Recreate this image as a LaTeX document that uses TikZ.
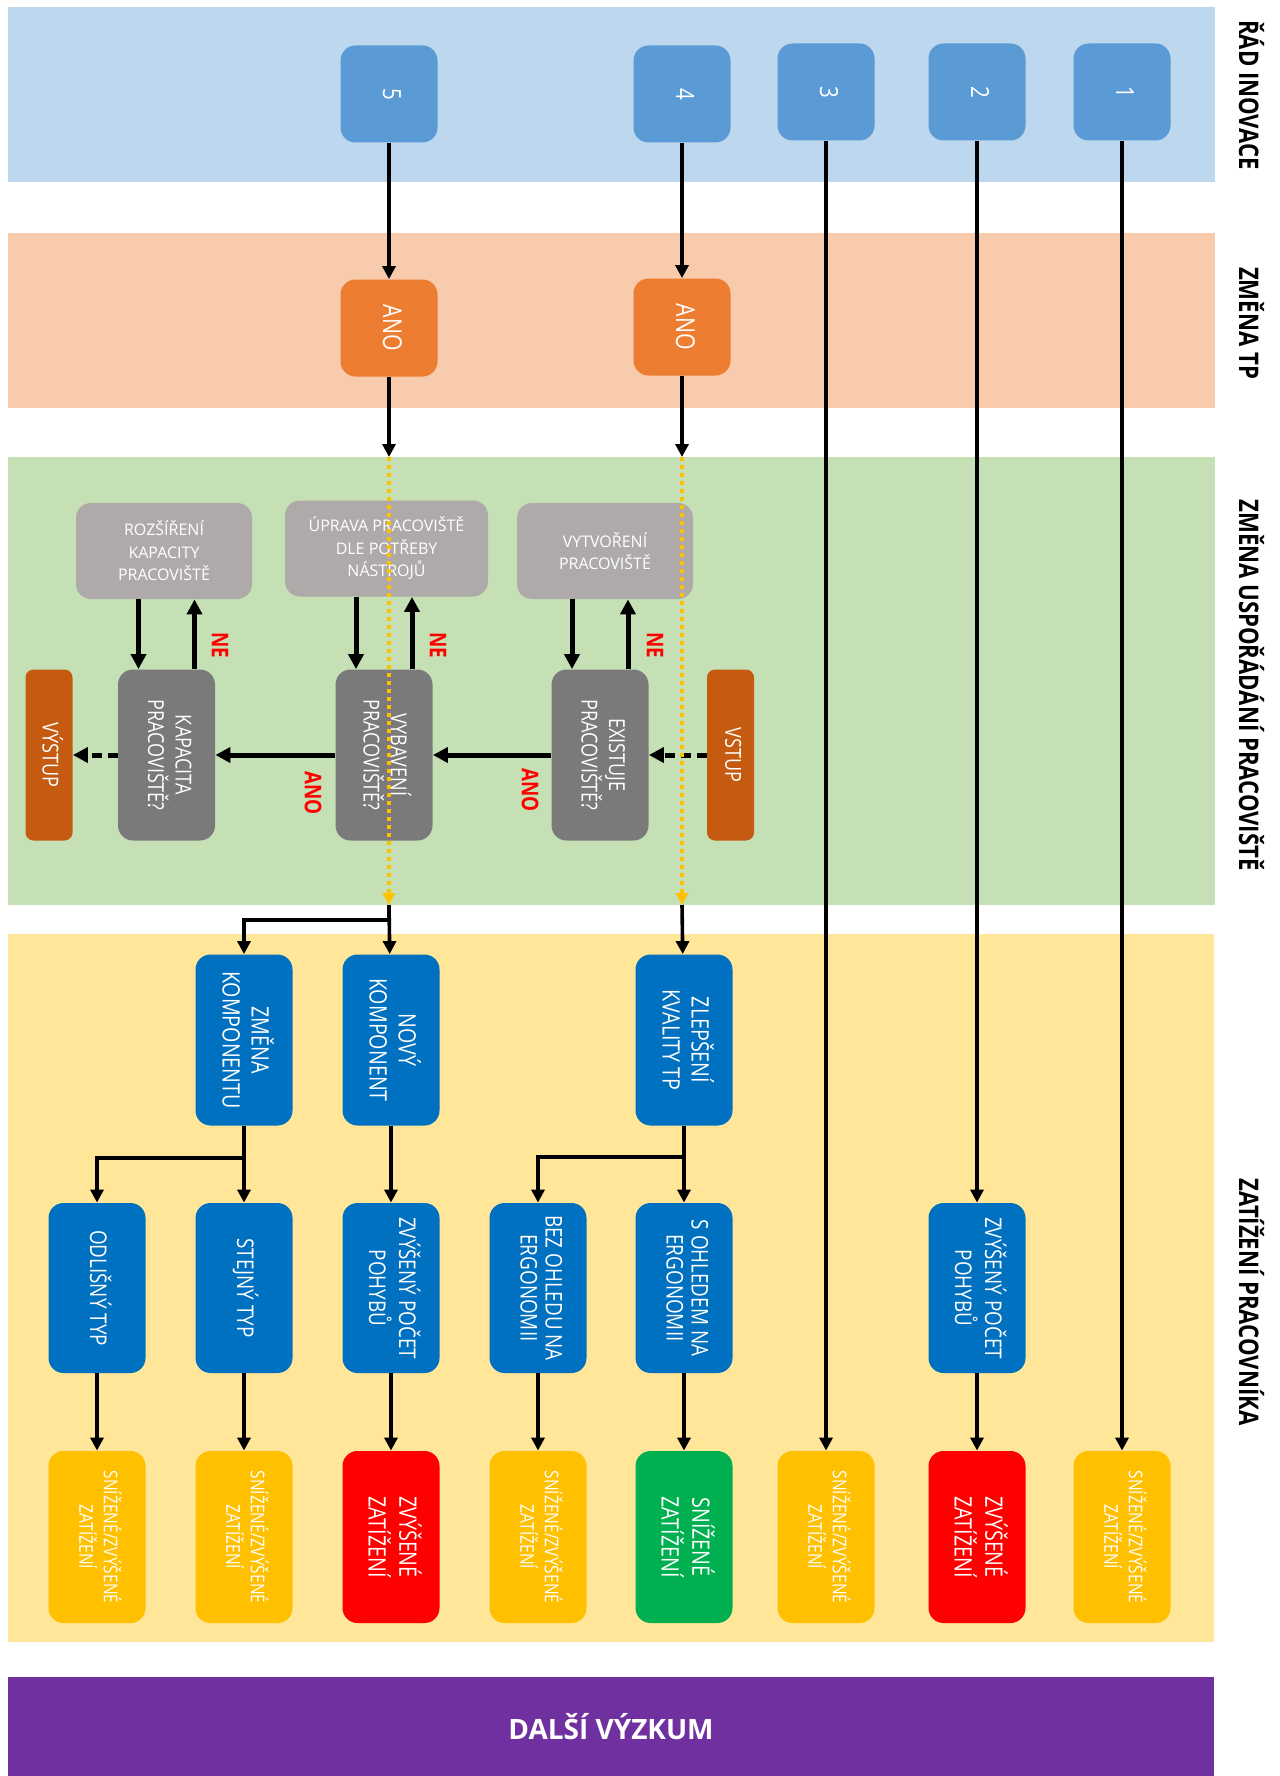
\documentclass[tikz,border=0pt]{standalone}
\usepackage{fontspec}
\usepackage{graphicx}
\setmainfont{Open Sans}
\usetikzlibrary{arrows.meta}

\definecolor{cBandBlue}{HTML}{BDD7EE}
\definecolor{cBandOrange}{HTML}{F8CBAD}
\definecolor{cBandGreen}{HTML}{C5E0B4}
\definecolor{cBandYellow}{HTML}{FFE699}
\definecolor{cPurple}{HTML}{7030A0}
\definecolor{cRank}{HTML}{5B9BD5}
\definecolor{cAno}{HTML}{ED7D31}
\definecolor{cLight}{HTML}{AEAAAA}
\definecolor{cDark}{HTML}{7A7A7A}
\definecolor{cIO}{HTML}{C55A11}
\definecolor{cBlue}{HTML}{0070C0}
\definecolor{cResY}{HTML}{FFC000}
\definecolor{cResR}{HTML}{FF0000}
\definecolor{cResG}{HTML}{00B050}
\definecolor{cLbl}{HTML}{FF0000}

% text turned a quarter turn clockwise, slightly narrowed
\newcommand\vtxt[1]{\rotatebox{-90}{\scalebox{0.82}[1]{\begin{tabular}{@{}c@{}}#1\end{tabular}}}}

\begin{document}
\begin{tikzpicture}[x=0.5pt,y=-0.5pt,
  box/.style={inner sep=0pt, text=white, rounded corners=7.5pt},
  rankbox/.style={box, fill=cRank, minimum width=48.5pt, minimum height=48.5pt,
    font=\fontsize{12.5pt}{15pt}\selectfont},
  anobox/.style={box, fill=cAno, minimum width=48.5pt, minimum height=48.5pt,
    font=\fontsize{13pt}{15pt}\selectfont},
  lightbox/.style={box, fill=cLight, minimum width=88pt, minimum height=48pt,
    align=center, font=\fontsize{8pt}{11.25pt}\selectfont},
  darkbox/.style={box, fill=cDark, minimum width=48.5pt, minimum height=85.5pt,
    font=\fontsize{11pt}{11.5pt}\selectfont},
  iobox/.style={box, fill=cIO, rounded corners=4pt, minimum width=23.5pt, minimum height=85.5pt,
    font=\fontsize{11pt}{13pt}\selectfont},
  bluebox/.style={box, fill=cBlue, minimum width=48.5pt, minimum height=85.5pt,
    font=\fontsize{12pt}{14.5pt}\selectfont},
  bluesmall/.style={box, fill=cBlue, minimum width=48.5pt, minimum height=85pt,
    font=\fontsize{11.5pt}{12.5pt}\selectfont},
  resyel/.style={box, fill=cResY, minimum width=48.5pt, minimum height=86pt,
    font=\fontsize{9.5pt}{11.5pt}\selectfont},
  resred/.style={box, fill=cResR, minimum width=48.5pt, minimum height=86pt,
    font=\fontsize{12pt}{14pt}\selectfont},
  resgrn/.style={resred, fill=cResG},
  lbl/.style={inner sep=0pt, text=cLbl, font=\bfseries\fontsize{11.5pt}{13pt}\selectfont},
  heading/.style={inner sep=0pt, font=\bfseries\fontsize{13.5pt}{16pt}\selectfont},
  conn/.style={line width=1.8pt, -{Triangle[length=6.5pt,width=6.5pt]}},
  thk/.style={line width=2.5pt, -{Triangle[length=7.5pt,width=7.5pt]}},
  dsh/.style={thk, dash pattern=on 5pt off 3pt},
  dotl/.style={draw=cResY, line width=2pt, dash pattern=on 2pt off 2pt,
    -{Triangle[length=6pt,width=6pt,fill=cResY]}}
]
\useasboundingbox (0,0) rectangle (1279,1776);

% swim lanes
\fill[cBandBlue]   (8,7)   rectangle (1215,182);
\fill[cBandOrange] (8,233) rectangle (1215,408);
\fill[cBandGreen]  (8,457) rectangle (1215,905);
\fill[cBandYellow] (8,934) rectangle (1214,1642);
\node[fill=cPurple, inner sep=0pt, minimum width=603pt, minimum height=49.5pt, text=white,
  font=\bfseries\fontsize{14pt}{16pt}\selectfont] (dalsi) at (611,1726.5) {DALŠÍ VÝZKUM};

% lane titles
\node[heading] (h1) at (1247,95)   {\vtxt{ŘÁD INOVACE}};
\node[heading] (h2) at (1247,323)  {\vtxt{ZMĚNA TP}};
\node[heading] (h3) at (1247,685)  {\vtxt{ZMĚNA USPOŘÁDÁNÍ PRACOVIŠTĚ}};
\node[heading] (h4) at (1247,1302) {\vtxt{ZATÍŽENÍ PRACOVNÍKA}};

% innovation order
\node[rankbox] (r5) at (389,94)  {\vtxt{5}};
\node[rankbox] (r4) at (682,94)  {\vtxt{4}};
\node[rankbox] (r3) at (826,92)  {\vtxt{3}};
\node[rankbox] (r2) at (977,92)  {\vtxt{2}};
\node[rankbox] (r1) at (1122,92) {\vtxt{1}};

% change of the process
\node[anobox] (a5) at (389,328) {\vtxt{ANO}};
\node[anobox] (a4) at (682,327) {\vtxt{ANO}};

% workplace layout
\node[lightbox] (rozs) at (164,551) {ROZŠÍŘENÍ\\KAPACITY\\PRACOVIŠTĚ};
\node[lightbox, minimum width=101.5pt] (uprava) at (386.5,548.5) {ÚPRAVA PRACOVIŠTĚ\\DLE POTŘEBY\\NÁSTROJŮ};
\node[lightbox] (vytv) at (605,551) {VYTVOŘENÍ\\PRACOVIŠTĚ};

\node[darkbox] (kap) at (166.5,755) {\vtxt{KAPACITA\\PRACOVIŠTĚ?}};
\node[darkbox] (vyb) at (384,755)   {\vtxt{VYBAVENÍ\\PRACOVIŠTĚ?}};
\node[darkbox] (exi) at (600,755)   {\vtxt{EXISTUJE\\PRACOVIŠTĚ?}};
\node[iobox] (vstup)  at (730.5,755) {\vtxt{VSTUP}};
\node[iobox] (vystup) at (49,755)    {\vtxt{VÝSTUP}};

\node[lbl] (ne3)  at (652,645) {\vtxt{NE}};
\node[lbl] (ne2)  at (435,645) {\vtxt{NE}};
\node[lbl] (ne1)  at (217,645) {\vtxt{NE}};
\node[lbl] (ano2) at (527,790) {\vtxt{ANO}};
\node[lbl] (ano1) at (310,793) {\vtxt{ANO}};

% worker load
\node[bluebox] (zmk)  at (244,1040) {\vtxt{ZMĚNA\\KOMPONENTU}};
\node[bluebox] (nov)  at (391,1040) {\vtxt{NOVÝ\\KOMPONENT}};
\node[bluebox] (zlep) at (684,1040) {\vtxt{ZLEPŠENÍ\\KVALITY TP}};

\node[bluesmall] (odl)  at (97,1288)  {\vtxt{ODLIŠNÝ TYP}};
\node[bluesmall] (stej) at (244,1288) {\vtxt{STEJNÝ TYP}};
\node[bluesmall] (zpp5) at (391,1288) {\vtxt{ZVÝŠENÝ POČET\\POHYBŮ}};
\node[bluesmall] (bez)  at (538,1288) {\vtxt{BEZ OHLEDU NA\\ERGONOMII}};
\node[bluesmall] (soh)  at (684,1288) {\vtxt{S OHLEDEM NA\\ERGONOMII}};
\node[bluesmall] (zpp2) at (977,1288) {\vtxt{ZVÝŠENÝ POČET\\POHYBŮ}};

\node[resyel] (y1)  at (97,1537)   {\vtxt{SNÍŽENÉ/ZVÝŠENÉ\\ZATÍŽENÍ}};
\node[resyel] (y2)  at (244,1537)  {\vtxt{SNÍŽENÉ/ZVÝŠENÉ\\ZATÍŽENÍ}};
\node[resred] (rd5) at (391,1537)  {\vtxt{ZVÝŠENÉ\\ZATÍŽENÍ}};
\node[resyel] (y3)  at (538,1537)  {\vtxt{SNÍŽENÉ/ZVÝŠENÉ\\ZATÍŽENÍ}};
\node[resgrn] (gr)  at (684,1537)  {\vtxt{SNÍŽENÉ\\ZATÍŽENÍ}};
\node[resyel] (y4)  at (826,1537)  {\vtxt{SNÍŽENÉ/ZVÝŠENÉ\\ZATÍŽENÍ}};
\node[resred] (rd2) at (977,1537)  {\vtxt{ZVÝŠENÉ\\ZATÍŽENÍ}};
\node[resyel] (y5)  at (1122,1537) {\vtxt{SNÍŽENÉ/ZVÝŠENÉ\\ZATÍŽENÍ}};

% lane entry / exit points and branch points
\coordinate (g5in)  at (389,457);
\coordinate (g5out) at (389,905);
\coordinate (g4in)  at (682,457);
\coordinate (g4out) at (682,905);
\coordinate (b5) at (389,920);
\coordinate (bk) at (244,1158);
\coordinate (bq) at (684,1157);

% main flows
\draw[conn] (r5) -- (a5);
\draw[conn] (r4) -- (a4);
\draw[conn] (a5) -- (g5in);
\draw[conn] (a4) -- (g4in);
\draw[conn] (r3) -- (y4);
\draw[conn] (r1) -- (y5);
\draw[conn] (r2) -- (zpp2);
\draw[conn] (zpp2) -- (rd2);
\draw[conn] (g4out) -- (zlep);
\draw[conn] (g5out) -- (nov);
\draw[conn] (g5out) -- (b5) -| (zmk);
\draw[conn] (nov) -- (zpp5);
\draw[conn] (zpp5) -- (rd5);
\draw[conn] (zmk) -- (stej);
\draw[conn] (zmk.south) -- (bk) -| (odl);
\draw[conn] (zlep) -- (soh);
\draw[conn] (zlep.south) -- (bq) -| (bez);
\draw[conn] (odl) -- (y1);
\draw[conn] (stej) -- (y2);
\draw[conn] (bez) -- (y3);
\draw[conn] (soh) -- (gr);

% decision chain of the workplace layout
\draw[dsh] (vstup) -- (exi);
\draw[thk] (exi) -- (vyb);
\draw[thk] (vyb) -- (kap);
\draw[dsh] (kap) -- (vystup);

\path ([xshift=-14pt]exi.north) coordinate (exd) ([xshift=14pt]exi.north) coordinate (exu)
      ([xshift=-14pt]vyb.north) coordinate (vbd) ([xshift=14pt]vyb.north) coordinate (vbu)
      ([xshift=-14pt]kap.north) coordinate (kpd) ([xshift=14pt]kap.north) coordinate (kpu);
\draw[thk] (exd |- vytv.south) -- (exd);
\draw[thk] (exu) -- (exu |- vytv.south);
\draw[thk] (vbd |- uprava.south) -- (vbd);
\draw[thk] (vbu) -- (vbu |- uprava.south);
\draw[thk] (kpd |- rozs.south) -- (kpd);
\draw[thk] (kpu) -- (kpu |- rozs.south);

% pass-through of the layout lane
\draw[dotl] (g5in) -- (g5out);
\draw[dotl] (g4in) -- (g4out);
\end{tikzpicture}
\end{document}
